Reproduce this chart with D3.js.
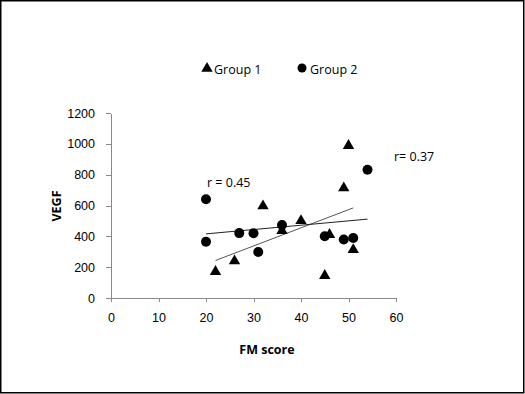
<!DOCTYPE html>
<meta charset="utf-8">
<style>
    body { margin: 0; background: #fff; }
    svg { font-family: "Open Sans", sans-serif; }
    .axis path, .axis line { fill: none; stroke: #8a8a8a; shape-rendering: crispEdges; }
    .axis text { font-size: 12.5px; fill: #000; }
</style>
<body>
<script src="https://cdn.jsdelivr.net/npm/d3@7"></script>
<script>
    // Group 1 (triangles)
    const g1X = [22, 26, 32, 36, 40, 45, 46, 49, 50, 51];
    const g1Y = [171, 240, 597, 437, 501, 145, 411, 713, 988, 313];
    // Group 2 (circles)
    const g2X = [20, 20, 27, 30, 31, 36, 45, 49, 51, 54];
    const g2Y = [640, 365, 421, 420, 298, 473, 400, 380, 389, 832];

    const xTicks = [0, 10, 20, 30, 40, 50, 60];
    const yTicks = [0, 200, 400, 600, 800, 1000, 1200];

    const width = 525, height = 394;

    const svg = d3.select('body').append('svg')
        .attr('width', width)
        .attr('height', height);

    // frame around the slide
    svg.append('rect')
        .attr('x', 0.75).attr('y', 0.75)
        .attr('width', width - 2).attr('height', height - 2)
        .style('fill', 'none').style('stroke', '#000').style('stroke-width', 1.5);

    const x = d3.scaleLinear().domain([0, 60]).range([111, 396]);
    const y = d3.scaleLinear().domain([0, 1200]).range([298, 113]);

    // axes
    svg.append('g')
        .attr('class', 'x axis')
        .attr('transform', 'translate(0,298)')
        .call(d3.axisBottom(x).tickValues(xTicks).tickFormat(d3.format('d'))
            .tickSize(4).tickSizeOuter(0).tickPadding(11));

    svg.append('g')
        .attr('class', 'y axis')
        .attr('transform', 'translate(111,0)')
        .call(d3.axisLeft(y).tickValues(yTicks).tickFormat(d3.format('d'))
            .tickSize(5).tickSizeOuter(0).tickPadding(11));

    // axis titles
    svg.append('text')
        .attr('x', 267).attr('y', 354)
        .style('text-anchor', 'middle')
        .style('font-size', '12.5px').style('font-weight', 'bold')
        .text('FM score');

    svg.append('text')
        .attr('transform', 'translate(61,206) rotate(-90)')
        .style('text-anchor', 'middle')
        .style('font-size', '12.5px').style('font-weight', 'bold')
        .text('VEGF');

    // least squares fit over the range of each group
    function fit(xs, ys) {
        const mx = d3.mean(xs), my = d3.mean(ys);
        const sxy = d3.sum(xs, (v, i) => (v - mx) * (ys[i] - my));
        const sxx = d3.sum(xs, v => (v - mx) * (v - mx));
        const b = sxy / sxx, a = my - b * mx;
        const [x0, x1] = d3.extent(xs);
        return [[x0, a + b * x0], [x1, a + b * x1]];
    }

    const line = d3.line().x(d => x(d[0])).y(d => y(d[1]));

    svg.append('path')
        .datum(fit(g1X, g1Y))
        .attr('d', line)
        .style('fill', 'none').style('stroke', '#555').style('stroke-width', 1);

    svg.append('path')
        .datum(fit(g2X, g2Y))
        .attr('d', line)
        .style('fill', 'none').style('stroke', '#222').style('stroke-width', 1);

    const tri = d3.symbol().type(d3.symbolTriangle).size(56);

    svg.selectAll('.tri')
        .data(g1X.map((v, i) => [v, g1Y[i]]))
        .enter().append('path')
        .attr('class', 'tri')
        .attr('d', tri)
        .attr('transform', d => 'translate(' + x(d[0]) + ',' + y(d[1]) + ')')
        .style('fill', '#000');

    svg.selectAll('.dot')
        .data(g2X.map((v, i) => [v, g2Y[i]]))
        .enter().append('circle')
        .attr('class', 'dot')
        .attr('r', 5)
        .attr('cx', d => x(d[0]))
        .attr('cy', d => y(d[1]))
        .style('fill', '#000');

    // correlation labels
    svg.append('text').attr('x', 207).attr('y', 187)
        .style('font-size', '12.5px').text('r = 0.45');
    svg.append('text').attr('x', 394).attr('y', 161)
        .style('font-size', '12.5px').text('r= 0.37');

    // legend
    const legend = svg.append('g');
    legend.append('path')
        .attr('d', tri)
        .attr('transform', 'translate(207,68.5)')
        .style('fill', '#000');
    legend.append('text').attr('x', 214).attr('y', 74)
        .style('font-size', '12.5px').text('Group 1');
    legend.append('circle')
        .attr('cx', 302).attr('cy', 68).attr('r', 4.5)
        .style('fill', '#000');
    legend.append('text').attr('x', 310).attr('y', 74)
        .style('font-size', '12.5px').text('Group 2');
</script>
</body>
</html>
